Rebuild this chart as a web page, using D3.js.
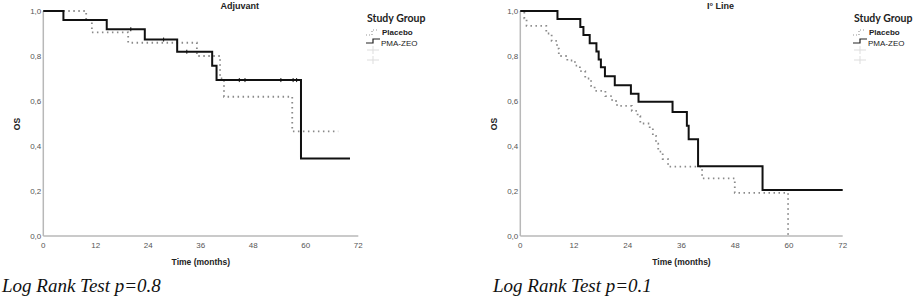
<!DOCTYPE html>
<html>
<head>
<meta charset="utf-8">
<script src="https://cdn.jsdelivr.net/npm/d3@7"></script>
<style>
  body { margin: 0; background: #fff; }
  svg { font-family: "Liberation Sans", Arial, sans-serif; }
</style>
</head>
<body>
<div id="chart"></div>
<script>
// axis ticks
const ticksX = [0, 12, 24, 36, 48, 60, 72];
const ticksY = [0, 0.2, 0.4, 0.6, 0.8, 1.0];
const groups = ["Placebo", "PMA-ZEO"];

// Adjuvant panel
const adjPmaTime = [0, 4.6, 14.5, 23.2, 30.6, 38.6, 39.6, 58.9, 70.1];
const adjPmaSurv = [1, 0.96, 0.919, 0.873, 0.819, 0.757, 0.693, 0.345, 0.345];
const adjPmaCensor = [20, 27.5, 32.8, 44.8, 46.1, 54.3, 57.1, 57.9];
const adjPlaTime = [0, 9.8, 11.1, 19.4, 35.1, 40.4, 41.3, 56.9, 67.4];
const adjPlaSurv = [1, 0.96, 0.905, 0.859, 0.80, 0.70, 0.619, 0.465, 0.465];

// I° Line panel
const linePmaTime = [0, 8.3, 13.4, 14.1, 15.5, 17.0, 17.5, 18.0, 18.9, 21.1, 24.7, 26.4, 34.0, 37.2, 37.6, 39.7, 54.1, 72];
const linePmaSurv = [1, 0.964, 0.929, 0.893, 0.857, 0.82, 0.785, 0.75, 0.71, 0.67, 0.632, 0.597, 0.551, 0.49, 0.43, 0.31, 0.204, 0.204];
const linePlaTime = [0, 0.9, 1.4, 5.8, 7.0, 8.2, 8.6, 10.5, 12.2, 13.3, 14.5, 15.8, 16.6, 19.0, 20.5, 21.6, 24.9, 26.2, 26.8, 28.9, 29.6, 30.3, 30.8, 31.8, 33.0, 40.6, 47.9, 59.8];
const linePlaSurv = [1, 0.967, 0.934, 0.90, 0.867, 0.833, 0.80, 0.78, 0.757, 0.733, 0.70, 0.667, 0.645, 0.622, 0.60, 0.578, 0.556, 0.533, 0.50, 0.478, 0.445, 0.41, 0.375, 0.342, 0.308, 0.256, 0.192, 0];

const width = 913, height = 299;

const svg = d3.select("#chart")
  .append("svg")
  .attr("width", width)
  .attr("height", height);

const zip = (t, s) => t.map((d, i) => [d, s[i]]);

const panels = [
  {title: "Adjuvant", x0: 43.3, x1: 358.3, pma: zip(adjPmaTime, adjPmaSurv), pla: zip(adjPlaTime, adjPlaSurv),
   censor: adjPmaCensor.map(t => [t, d3.bisectRight(adjPmaTime, t) - 1]), legX: 366, pval: "Log Rank Test p=0.8", pX: 2},
  {title: "I° Line", x0: 520.3, x1: 842.7, pma: zip(linePmaTime, linePmaSurv), pla: zip(linePlaTime, linePlaSurv),
   censor: [], legX: 853, pval: "Log Rank Test p=0.1", pX: 493}
];

panels.forEach(p => {
  const x = d3.scaleLinear().domain([0, 72]).range([p.x0, p.x1]);
  const y = d3.scaleLinear().domain([0, 1]).range([236, 11]);
  const g = svg.append("g");

  // axes
  g.append("line").attr("x1", x(0)).attr("x2", x(72)).attr("y1", y(0)).attr("y2", y(0))
    .attr("stroke", "#b8b8b8").attr("stroke-width", 1.5);
  g.append("line").attr("x1", x(0)).attr("x2", x(0)).attr("y1", y(0)).attr("y2", y(1))
    .attr("stroke", "#b8b8b8").attr("stroke-width", 1.5);

  g.selectAll(".xt").data(ticksX).join("text")
    .attr("x", d => x(d)).attr("y", 248)
    .attr("text-anchor", "middle").attr("font-size", 8).attr("fill", "#555")
    .text(d => d);
  g.selectAll(".yt").data(ticksY).join("text")
    .attr("x", x(0) - 2).attr("y", d => y(d) + 3)
    .attr("text-anchor", "end").attr("font-size", 8).attr("fill", "#555")
    .text(d => d3.format(".1f")(d).replace(".", ","));

  // titles
  g.append("text").attr("x", (x(0) + x(72)) / 2 + 39).attr("y", 9)
    .attr("text-anchor", "middle").attr("font-size", 9).attr("font-weight", "bold").attr("fill", "#222")
    .text(p.title);
  g.append("text").attr("x", (x(0) + x(72)) / 2).attr("y", 265)
    .attr("text-anchor", "middle").attr("font-size", 8.5).attr("font-weight", "bold").attr("fill", "#222")
    .text("Time (months)");
  g.append("text").attr("transform", `translate(${x(0) - 23},124) rotate(-90)`)
    .attr("text-anchor", "middle").attr("font-size", 8.5).attr("font-weight", "bold").attr("fill", "#222")
    .text("OS");

  const step = d3.line().x(d => x(d[0])).y(d => y(d[1])).curve(d3.curveStepAfter);

  g.append("path").attr("d", step(p.pla)).attr("fill", "none")
    .attr("stroke", "#8a8a8a").attr("stroke-width", 1.8).attr("stroke-dasharray", "1.5,3.5");
  g.append("path").attr("d", step(p.pma)).attr("fill", "none")
    .attr("stroke", "#111").attr("stroke-width", 2);

  g.selectAll(".cen").data(p.censor).join("line")
    .attr("x1", d => x(d[0])).attr("x2", d => x(d[0]))
    .attr("y1", d => y(p.pma[d[1]][1]) - 2).attr("y2", d => y(p.pma[d[1]][1]) + 2)
    .attr("stroke", "#111").attr("stroke-width", 1);

  // legend
  const lg = g.append("g").attr("transform", `translate(${p.legX},0)`);
  lg.append("text").attr("x", 1).attr("y", 22).style("font-family", "Lato, sans-serif")
    .attr("font-size", 10.5).attr("font-weight", "bold").attr("fill", "#222").text("Study Group");
  lg.append("path").attr("d", "M0,35H6V30H13").attr("fill", "none")
    .attr("stroke", "#999").attr("stroke-width", 1.2).attr("stroke-dasharray", "1,2");
  lg.append("path").attr("d", "M0,43H7V39H14").attr("fill", "none")
    .attr("stroke", "#222").attr("stroke-width", 1.2);
  lg.append("text").attr("x", 16).attr("y", 35).attr("font-size", 8).attr("font-weight", "bold")
    .attr("fill", "#222").text(groups[0]);
  lg.append("text").attr("x", 15).attr("y", 45.5).attr("font-size", 8)
    .attr("fill", "#222").text(groups[1]);
  [50, 60].forEach(yy => {
    lg.append("path").attr("d", `M1,${yy}H13M7,${yy - 4}V${yy + 4}`)
      .attr("stroke", "#ddd").attr("stroke-width", 1);
  });

  // p-value note
  svg.append("text").attr("x", p.pX).attr("y", 292)
    .style("font-family", "'Liberation Serif', 'Times New Roman', serif")
    .attr("font-style", "italic").attr("font-size", 19).attr("fill", "#111")
    .text(p.pval);
});
</script>
</body>
</html>
